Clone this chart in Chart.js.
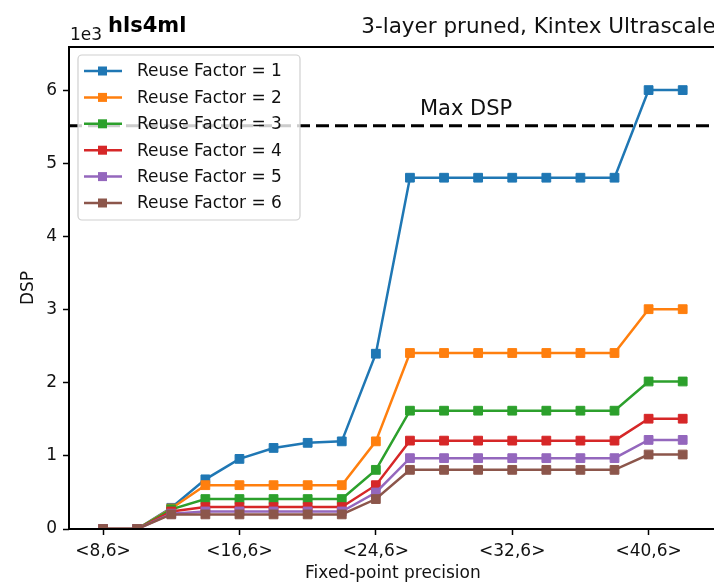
<!DOCTYPE html>
<html>
<head>
<meta charset="utf-8">
<script src="https://cdn.jsdelivr.net/npm/chart.js@4/dist/chart.umd.min.js"></script>
<style>
  html, body { margin: 0; padding: 0; background: #fff; overflow: hidden; }
  canvas { display: block; }
</style>
</head>
<body>
<canvas id="dspChart" width="724" height="584"></canvas>
<script>
// total bits of ap_fixed<W,6>, integer bits fixed at 6
var precisionBits = [8, 10, 12, 14, 16, 18, 20, 22, 24, 26, 28, 30, 32, 34, 36, 38, 40, 42];
var xTickBits = [8, 16, 24, 32, 40];
var yTicks = [0, 1000, 2000, 3000, 4000, 5000, 6000];

var reuseLabels = ['Reuse Factor = 1', 'Reuse Factor = 2', 'Reuse Factor = 3',
                   'Reuse Factor = 4', 'Reuse Factor = 5', 'Reuse Factor = 6'];
var reuseColors = ['#1f77b4', '#ff7f0e', '#2ca02c', '#d62728', '#9467bd', '#8c564b'];

var dspRF1 = [0, 0, 290, 680, 960, 1110, 1180, 1200, 2400, 4810, 4810, 4810, 4810, 4810, 4810, 4810, 6010, 6010];
var dspRF2 = [0, 0, 280, 600, 600, 600, 600, 600, 1200, 2410, 2410, 2410, 2410, 2410, 2410, 2410, 3010, 3010];
var dspRF3 = [0, 0, 270, 410, 410, 410, 410, 410, 810, 1620, 1620, 1620, 1620, 1620, 1620, 1620, 2020, 2020];
var dspRF4 = [0, 0, 240, 300, 300, 300, 300, 300, 600, 1210, 1210, 1210, 1210, 1210, 1210, 1210, 1510, 1510];
var dspRF5 = [0, 0, 210, 240, 240, 240, 240, 240, 500, 970, 970, 970, 970, 970, 970, 970, 1220, 1220];
var dspRF6 = [0, 0, 200, 200, 200, 200, 200, 200, 410, 810, 810, 810, 810, 810, 810, 810, 1020, 1020];
var dspSeries = [dspRF1, dspRF2, dspRF3, dspRF4, dspRF5, dspRF6];

var maxDSP = 5520;

var FONT = 'DejaVu Sans';
var TEXT = '#111';

var datasets = dspSeries.map(function (vals, i) {
    return {
        label: reuseLabels[i],
        data: vals.map(function (v, j) { return { x: precisionBits[j], y: v }; }),
        borderColor: reuseColors[i],
        backgroundColor: reuseColors[i],
        borderWidth: 2.5,
        pointStyle: 'rect',
        pointRadius: 6.2,
        pointBorderWidth: 1,
        pointBorderColor: reuseColors[i],
        tension: 0,
        clip: 0,
        order: 6 - i
    };
});

// device limit line
datasets.push({
    label: 'Max DSP',
    data: [{ x: 6, y: maxDSP }, { x: 44, y: maxDSP }],
    borderColor: '#000',
    borderWidth: 3,
    borderDash: [13, 6],
    pointRadius: 0,
    order: 0
});

var annotate = {
    id: 'annotate',
    afterDatasetsDraw: function (chart) {
        var ctx = chart.ctx;
        var a = chart.chartArea;
        var y = chart.scales.y;
        ctx.save();

        // frame
        ctx.strokeStyle = '#000';
        ctx.lineWidth = 2;
        ctx.strokeRect(a.left, a.top, a.right - a.left, a.bottom - a.top);

        // limit label
        ctx.fillStyle = TEXT;
        ctx.font = '21px "' + FONT + '"';
        ctx.textAlign = 'left';
        ctx.textBaseline = 'alphabetic';
        ctx.fillText('Max DSP', 420, y.getPixelForValue(maxDSP) - 11);

        // legend box
        var lx = 78, ly = 55, lw = 222, lh = 165;
        ctx.beginPath();
        ctx.roundRect(lx, ly, lw, lh, 4);
        ctx.fillStyle = 'rgba(255,255,255,0.8)';
        ctx.fill();
        ctx.strokeStyle = '#d0d0d0';
        ctx.lineWidth = 1.2;
        ctx.stroke();

        ctx.font = '17px "' + FONT + '"';
        ctx.textBaseline = 'middle';
        for (var i = 0; i < reuseLabels.length; i++) {
            var ry = 71 + i * 26.4;
            ctx.strokeStyle = reuseColors[i];
            ctx.lineWidth = 2.5;
            ctx.beginPath();
            ctx.moveTo(84, ry);
            ctx.lineTo(122, ry);
            ctx.stroke();
            ctx.fillStyle = reuseColors[i];
            ctx.fillRect(98, ry - 4.5, 9, 9);
            ctx.fillStyle = TEXT;
            ctx.fillText(reuseLabels[i], 137, ry + 1);
        }

        // headings and axis multiplier
        ctx.textBaseline = 'alphabetic';
        ctx.fillStyle = '#000';
        ctx.font = 'bold 21px "' + FONT + '"';
        ctx.fillText('hls4ml', 108, 32);
        ctx.fillStyle = TEXT;
        ctx.font = '17px "' + FONT + '"';
        ctx.fillText('1e3', 70, 40);
        ctx.textAlign = 'right';
        ctx.font = '21.5px "' + FONT + '"';
        ctx.fillText('3-layer pruned, Kintex Ultrascale', a.right - 1, 33);
        ctx.restore();
    }
};

var ctx = document.getElementById('dspChart').getContext('2d');
var myChart = new Chart(ctx, {
    type: 'line',
    data: { datasets: datasets },
    options: {
        responsive: false,
        animation: false,
        devicePixelRatio: 1,
        layout: { padding: { left: 0, top: 47, right: 5, bottom: 0 } },
        plugins: {
            legend: { display: false },
            tooltip: { enabled: false }
        },
        scales: {
            x: {
                type: 'linear',
                min: 6,
                max: 44,
                afterFit: function (s) { s.height = 55; },
                afterBuildTicks: function (s) {
                    s.ticks = xTickBits.map(function (v) { return { value: v }; });
                },
                ticks: {
                    color: TEXT,
                    font: { family: FONT, size: 17 },
                    padding: 6,
                    maxRotation: 0,
                    callback: function (v) { return '<' + v + ',6>'; }
                },
                grid: {
                    drawOnChartArea: false,
                    tickLength: 6,
                    tickWidth: 1.5,
                    tickColor: '#000'
                },
                border: { display: false },
                title: {
                    display: true,
                    text: 'Fixed-point precision',
                    color: TEXT,
                    font: { family: FONT, size: 17 },
                    padding: { top: 0, bottom: 0 }
                }
            },
            y: {
                min: 0,
                max: 6600,
                afterFit: function (s) { s.width = 69; },
                afterBuildTicks: function (s) {
                    s.ticks = yTicks.map(function (v) { return { value: v }; });
                },
                ticks: {
                    color: TEXT,
                    font: { family: FONT, size: 17 },
                    padding: 6,
                    callback: function (v) { return String(v / 1000); }
                },
                grid: {
                    drawOnChartArea: false,
                    tickLength: 6,
                    tickWidth: 1.5,
                    tickColor: '#000'
                },
                border: { display: false },
                title: {
                    display: true,
                    text: 'DSP',
                    color: TEXT,
                    font: { family: FONT, size: 17 },
                    padding: { top: 18, bottom: 0 }
                }
            }
        }
    },
    plugins: [annotate]
});
</script>
</body>
</html>
